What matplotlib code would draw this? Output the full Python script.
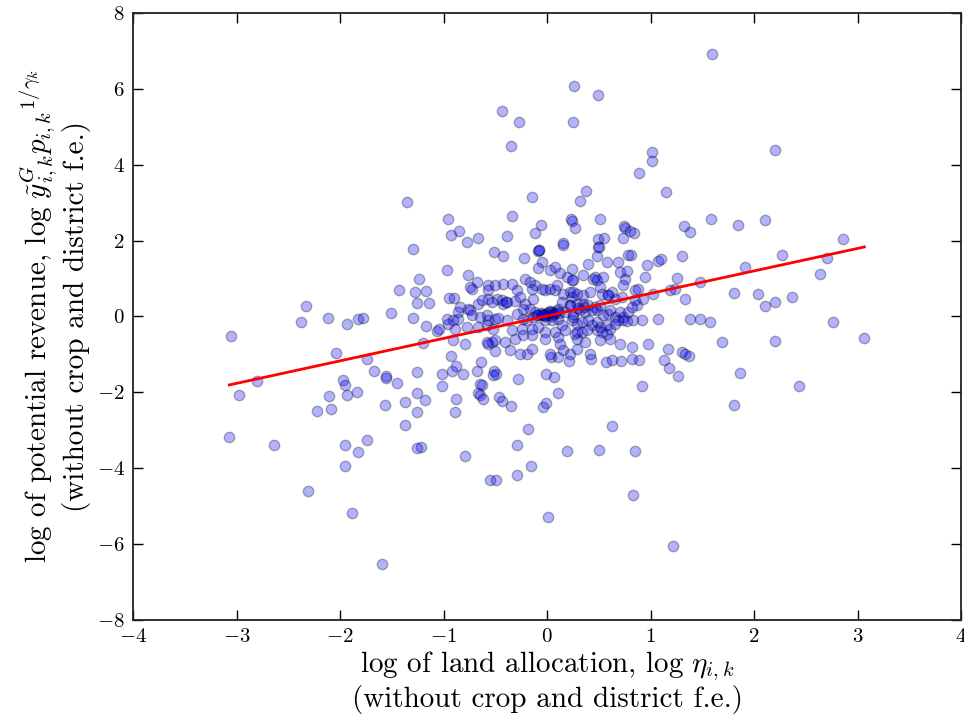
import matplotlib
matplotlib.use("Agg")
import matplotlib.pyplot as plt
import numpy as np

# ---- data ----
x_left = [-3.05,-2.33,-2.38,-2.12,-1.93,-1.83,-2.04,-2.80,-2.98,-1.97,-1.95,-2.11,-1.93,-1.84,-2.22,-2.09,-3.07,-2.64,-1.95,-1.83,-1.95,-2.31,-1.88,
          -1.775,-1.24,-1.43,-1.28,-1.17,-1.26,-1.14,-1.51,-1.30,-1.17,
          -1.04,-1.06,-1.195,-1.74,-1.67,-1.56,-1.56,-1.45,-1.256,-1.015,-1.015,-1.565,-1.375,-1.256,-1.18,-1.256,-1.375,-1.74,-1.256,-1.217,-1.594]
y_left = [-0.52,0.28,-0.15,-0.05,-0.21,-0.08,-0.97,-1.69,-2.06,-1.67,-1.80,-2.10,-2.06,-2.00,-2.48,-2.43,-3.19,-3.39,-3.39,-3.58,-3.94,-4.60,-5.17,
          -0.05,1.00,0.71,0.65,0.67,0.35,0.35,0.08,-0.05,-0.25,
          -0.32,-0.38,-0.70,-1.11,-1.44,-1.56,-1.62,-1.76,-1.46,-1.53,-1.83,-2.33,-2.26,-2.03,-2.19,-2.52,-2.85,-3.27,-3.47,-3.44,-6.52]

x_top = [-0.435,-0.273,-0.351,-1.35,-0.145,-0.953,-0.338,-0.06,-0.93,-0.85,-0.664,-0.775,-0.384,-0.12,-1.30,
         0.264,0.496,0.251,1.015,1.015,0.892,0.374,1.147,0.315,0.229,0.241,0.509,0.268,1.58,1.845,2.106,1.327,1.38,
         0.747,0.754,0.80,0.84,0.73,0.158,0.496,0.554,0.50,1.91,1.81,2.04,2.11,1.59]
y_top = [5.41,5.12,4.50,3.01,3.15,2.56,2.66,2.42,2.16,2.26,2.06,1.96,2.13,2.19,1.77,
         6.08,5.85,5.12,4.33,4.10,3.77,3.31,3.28,3.05,2.57,2.53,2.58,2.32,2.58,2.42,2.55,2.39,2.22,
         2.39,2.32,2.26,2.19,2.06,1.93,2.03,2.06,1.83,1.31,0.61,0.58,0.28,6.91]

x_low = [-0.915,-0.88,-0.81,-0.93,-0.88,-0.894,-0.79,-0.68,-0.64,-0.512,-0.49,-0.52,-0.645,-0.626,-0.664,-0.65,-0.62,-0.46,-0.44,-0.352,
         -0.277,-0.18,-0.29,-0.16,-0.29,-0.55,-0.49,0.013,-0.014,0.07,0.11,-0.014,-0.04,0.034,0.11,-0.26,-0.19,
         1.57,1.688,1.375,1.13,1.18,1.266,1.867,1.807,0.915,0.625,0.193,0.505,0.847,0.831,1.217,0.82,0.885,0.71,0.627,0.566,0.42,0.21]
y_low = [-1.45,-1.30,-1.53,-1.03,-2.17,-2.52,-3.68,-1.44,-1.21,-1.44,-1.53,-1.55,-1.77,-1.81,-2.03,-2.07,-2.17,-2.12,-2.23,-2.36,
         -1.64,-2.98,-3.38,-3.94,-4.17,-4.30,-4.30,-5.30,-1.53,-1.60,-2.02,-2.28,-2.39,-1.07,-1.07,-1.00,-1.00,
         -0.15,-0.68,-1.04,-1.14,-1.37,-1.56,-1.50,-2.33,-1.83,-2.89,-3.55,-3.51,-3.55,-4.70,-6.06,-1.11,-1.14,-1.17,-1.14,-1.20,-1.11,-1.17]

x_right = [2.206,2.86,2.267,2.70,2.64,2.206,2.37,2.76,3.065,2.206,2.438]
y_right = [4.40,2.03,1.63,1.53,1.11,0.375,0.51,-0.15,-0.575,-0.65,-1.83]

x_core_a = [-0.513,-0.429,-0.223,-0.091,-0.078,-0.046,-0.084,0.157,0.077,0.125,0.028,0.190,0.254,-0.967,-0.761,-0.728,-0.744,-0.680,-0.574,-0.574,
            -0.503,-0.422,-0.342,-0.294,-0.213,-0.165,-0.116,-0.149,-0.052,-0.020,0.028,0.077,0.093,0.157,0.222,0.238,-0.947,-0.896,-0.841,-0.857,
            -0.761,-0.664,-0.632,-0.567,-0.535,-0.487,-0.439,-0.422,-0.390,-0.310,-0.261,-0.213,-0.133,-0.229,-0.165,-0.116,-0.084,-0.036,0.012,0.045,
            0.109,0.141,0.222,0.173,0.254,-0.970,-0.906,-0.857,-0.954,-0.744,-0.728,-0.648,-0.583,-0.567,-0.503,-0.471,-0.390,-0.294,-0.229,-0.197,
            -0.133,-0.020,0.045,0.109,0.141,0.238,-0.889,-0.777,-0.664,-0.583,-0.519,-0.342,-0.245,-0.149,-0.084,-0.020,0.077,0.173,-0.906,-0.793,
            -0.583,-0.535,-0.567,-0.503,-0.406,-0.310,-0.229,-0.149,-0.020,0.109,0.125,0.157,0.028,-0.503,-0.358,-0.149]
y_core_a = [1.703,1.589,1.553,1.729,1.765,1.439,1.281,1.879,1.307,1.158,1.219,1.043,0.955,1.237,1.105,0.736,0.780,0.911,0.841,0.692,
            0.841,0.868,0.868,0.692,1.000,0.911,0.823,0.736,0.736,0.692,0.736,0.692,0.823,0.604,0.648,0.516,0.498,0.489,0.252,0.120,
            0.208,0.340,0.428,0.472,0.384,0.472,0.428,0.340,0.384,0.401,0.516,0.340,0.454,0.208,0.208,0.120,0.032,0.076,0.032,0.120,
            0.208,0.384,0.296,0.120,0.076,-0.056,-0.100,-0.056,-0.188,0.164,0.032,-0.012,0.032,-0.100,-0.056,-0.038,-0.100,0.076,-0.056,-0.100,
            -0.012,-0.100,-0.100,-0.056,-0.232,-0.100,-0.320,-0.276,-0.276,-0.232,-0.320,-0.364,-0.320,-0.320,-0.276,-0.408,-0.408,-0.364,-0.610,-0.733,
            -0.672,-0.672,-0.716,-0.628,-0.672,-0.584,-0.496,-0.496,-0.584,-0.540,-0.716,-0.891,-0.979,-0.918,-0.891,-0.847]

x_core_b = [0.496,0.480,0.576,0.689,0.786,0.811,0.963,1.075,1.098,1.301,0.245,0.351,0.399,0.447,0.464,0.480,0.544,0.705,0.753,0.776,
            0.737,0.947,1.253,1.333,1.478,0.238,0.248,0.286,0.351,0.415,0.512,0.528,0.592,0.625,0.657,0.721,0.850,0.882,0.850,0.866,
            0.931,1.027,1.188,1.237,0.222,0.286,0.351,0.399,0.464,0.480,0.512,0.544,0.592,0.609,0.657,0.705,0.737,0.786,0.818,0.834,
            0.914,1.075,1.381,1.478,0.254,0.286,0.335,0.399,0.431,0.480,0.512,0.576,0.609,0.657,0.689,0.737,0.770,0.270,0.335,0.383,
            0.480,0.528,0.576,0.286,0.367,0.512,0.609,0.705,0.818,0.979,1.172,1.301,1.333,0.286,0.415,0.222]
y_core_b = [1.835,1.589,1.439,1.439,1.633,1.615,1.351,1.466,1.527,1.598,1.263,1.087,1.378,0.999,1.043,0.955,1.043,1.175,0.999,1.193,
            0.841,1.043,1.017,0.472,0.912,0.955,0.648,0.604,0.577,0.648,0.780,0.604,0.560,0.648,0.472,0.516,0.692,0.736,0.428,0.296,
            0.472,0.604,0.692,0.736,0.296,0.340,0.340,0.296,0.252,0.164,0.296,0.032,0.076,0.164,-0.012,0.120,-0.012,0.120,0.252,-0.100,
            -0.100,-0.056,-0.056,-0.074,-0.012,-0.188,-0.144,-0.100,-0.232,-0.144,-0.276,-0.232,-0.320,-0.188,-0.100,-0.100,-0.126,-0.452,-0.408,-0.364,
            -0.364,-0.408,-0.452,-0.584,-0.672,-0.628,-0.584,-0.716,-0.804,-0.716,-0.847,-0.935,-0.979,-0.847,-0.979,-0.979]

x_dense = [-0.05,0.00,0.05,-0.02,0.08,0.03,0.32,0.37,0.43,0.36,0.30,0.59,0.29,-0.10,-0.06,0.02,0.06,0.10,-0.03,0.12,-0.40,-0.08]
y_dense = [0.05,0.08,0.02,0.00,0.10,0.15,0.16,0.12,0.16,0.25,0.21,0.56,-0.41,0.04,0.10,0.12,0.06,0.14,0.03,0.10,0.38,1.76]

fit_slope = 0.593
fit_intercept = 0.015

x_ticks = [-4, -3, -2, -1, 0, 1, 2, 3, 4]
y_ticks = [-8, -6, -4, -2, 0, 2, 4, 6, 8]

xs = np.array(x_left + x_top + x_low + x_right + x_core_a + x_core_b + x_dense)
ys = np.array(y_left + y_top + y_low + y_right + y_core_a + y_core_b + y_dense)

# ---- style ----
plt.rcParams['font.family'] = 'serif'
plt.rcParams['font.serif'] = ['cmr10', 'DejaVu Serif']
plt.rcParams['mathtext.fontset'] = 'cm'
plt.rcParams['axes.formatter.use_mathtext'] = True
plt.rcParams['axes.unicode_minus'] = True

fig = plt.figure(figsize=(9.64, 7.25), dpi=100)
ax = fig.add_axes([0.138, 0.145, 0.859, 0.837])

ax.scatter(xs, ys, s=56, c='b', alpha=0.3, edgecolors='k', linewidths=1.0, zorder=2)
xl = np.array([xs.min(), xs.max()])
ax.plot(xl, fit_intercept + fit_slope * xl, color='r', lw=2, zorder=3)

ax.set_xlim(-4, 4)
ax.set_ylim(-8, 8)
ax.set_xticks(x_ticks)
ax.set_yticks(y_ticks)
ax.tick_params(direction='in', top=True, right=True, length=7, width=1, labelsize=15, pad=6)
for sp in ax.spines.values():
    sp.set_linewidth(1.3)
    sp.set_color('#222222')

ax.set_xlabel("log of land allocation, $\\log\\,\\eta_{i,k}$\n(without crop and district f.e.)",
              fontsize=21, labelpad=2, linespacing=1.1)
ax.set_ylabel("log of potential revenue, $\\log\\,{\\tilde{y}^{G}_{i,k}p_{i,k}}^{1/\\gamma_k}$\n(without crop and district f.e.)",
              fontsize=21, labelpad=4, linespacing=1.1)

fig.savefig("out.png", dpi=100, facecolor='white')
